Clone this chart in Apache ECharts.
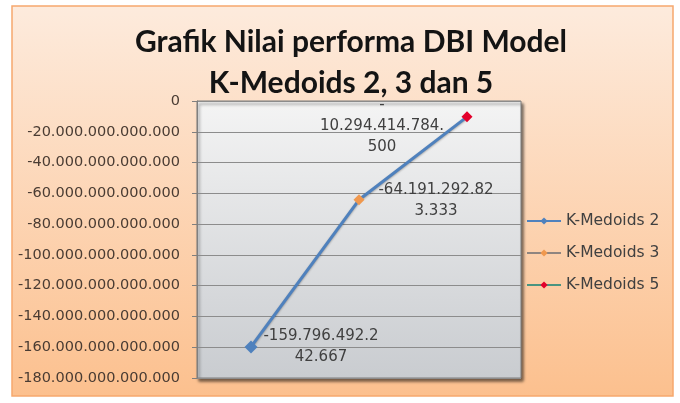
<!DOCTYPE html>
<html>
<head>
<meta charset="utf-8">
<script src="https://cdn.jsdelivr.net/npm/echarts@6/dist/echarts.min.js"></script>
<style>
  html, body { margin: 0; padding: 0; background: #fff; }
  #chart { width: 680px; height: 403px; }
</style>
</head>
<body>
<div id="chart"></div>
<script>
const CATEGORIES = ["K-Medoids 2", "K-Medoids 3", "K-Medoids 5"];
const DBI_VALUES = [-159796492242667, -64191292823333, -10294414784500];
const POINT_LABELS = ["-159.796.492.2\n42.667", "-64.191.292.82\n3.333", "-\n10.294.414.784.\n500"];
const Y_MIN = -180000000000000;
const Y_MAX = 0;
const Y_STEP = 20000000000000;

// format like "-20.000.000.000.000"
function fmtDots(v) {
  const s = Math.abs(Math.round(v)).toString().replace(/\B(?=(\d{3})+(?!\d))/g, ".");
  return (v < 0 ? "-" : "") + s;
}

const chart = echarts.init(document.getElementById("chart"));

const labelBase = {
  show: true,
  color: "#404040",
  fontFamily: "DejaVu Sans",
  fontSize: 15,
  lineHeight: 21,
  align: "center",
  verticalAlign: "middle",
  position: "inside"
};

const onlyAt = (idx) => DBI_VALUES.map((v, i) => (i === idx ? v : null));

const option = {
  animation: false,
  graphic: [{
    type: "rect",
    z: -10,
    shape: { x: 12, y: 6, width: 661, height: 390 },
    style: {
      fill: new echarts.graphic.LinearGradient(0, 0, 0, 1, [
        { offset: 0, color: "#FDEBDD" },
        { offset: 1, color: "#FCC08E" }
      ]),
      stroke: "#F6A86E",
      lineWidth: 1.5
    }
  }],
  title: {
    text: "Grafik Nilai performa DBI Model\nK-Medoids 2, 3 dan 5",
    left: 346,
    textAlign: "center",
    top: 17,
    textStyle: {
      fontFamily: "Lato",
      fontWeight: "bold",
      fontSize: 30,
      lineHeight: 41,
      color: "#141414"
    }
  },
  legend: {
    orient: "vertical",
    left: 521,
    top: 208,
    itemWidth: 34,
    itemHeight: 9,
    itemGap: 16,
    data: CATEGORIES,
    textStyle: { fontFamily: "DejaVu Sans", fontSize: 15.5, color: "#404040" }
  },
  grid: {
    show: true,
    left: 197,
    right: 159,
    top: 101,
    bottom: 25,
    borderColor: "#7f7f7f",
    borderWidth: 1,
    backgroundColor: new echarts.graphic.LinearGradient(0, 0, 0, 1, [
      { offset: 0, color: "#F4F4F4" },
      { offset: 1, color: "#C9CCD0" }
    ]),
    shadowColor: "rgba(0,0,0,0.55)",
    shadowBlur: 3,
    shadowOffsetX: 2,
    shadowOffsetY: 3
  },
  xAxis: {
    type: "category",
    data: CATEGORIES,
    boundaryGap: true,
    axisLine: { show: false },
    axisTick: { show: false },
    axisLabel: { show: false }
  },
  yAxis: {
    type: "value",
    min: Y_MIN,
    max: Y_MAX,
    interval: Y_STEP,
    axisLine: { show: true, lineStyle: { color: "#7f7f7f" } },
    axisTick: { show: true, length: 5, lineStyle: { color: "#7f7f7f" } },
    axisLabel: {
      margin: 17,
      fontFamily: "DejaVu Sans",
      fontSize: 14.5,
      color: "#4a3c33",
      formatter: fmtDots
    },
    splitLine: { show: true, lineStyle: { color: "#8c8c8c", width: 1 } }
  },
  series: [
    {
      name: CATEGORIES[0],
      type: "line",
      data: DBI_VALUES.map((v, i) => (i === 0 ? v : { value: v, symbol: "none" })),
      symbol: "diamond",
      symbolSize: 13,
      itemStyle: { color: "#4F81BD" },
      lineStyle: {
        color: "#4F81BD",
        width: 3,
        shadowColor: "rgba(0,0,0,0.3)",
        shadowBlur: 2,
        shadowOffsetY: 1
      },
      label: Object.assign({}, labelBase, {
        offset: [70, 0],
        formatter: (p) => (p.dataIndex === 0 ? POINT_LABELS[0] : "")
      }),
      z: 2
    },
    {
      name: CATEGORIES[1],
      type: "line",
      data: onlyAt(1),
      symbol: "diamond",
      symbolSize: 11,
      itemStyle: { color: "#F0984E" },
      lineStyle: { color: "#8f8580", width: 3 },
      label: Object.assign({}, labelBase, {
        offset: [77, 1],
        formatter: () => POINT_LABELS[1]
      }),
      z: 3
    },
    {
      name: CATEGORIES[2],
      type: "line",
      data: onlyAt(2),
      symbol: "diamond",
      symbolSize: 11,
      itemStyle: { color: "#E3002B" },
      lineStyle: { color: "#4A9480", width: 3 },
      label: Object.assign({}, labelBase, {
        offset: [-85, 9],
        formatter: () => POINT_LABELS[2]
      }),
      z: 3
    }
  ]
};

chart.setOption(option);
window.addEventListener("resize", () => chart.resize());
</script>
</body>
</html>
